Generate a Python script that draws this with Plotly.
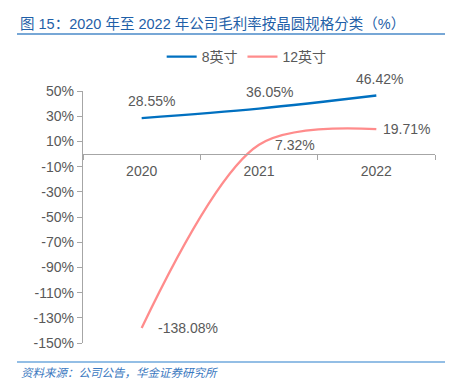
import plotly.graph_objects as go

years = ["2020", "2021", "2022"]
inch8 = [28.55, 36.05, 46.42]
inch12 = [-138.08, 7.32, 19.71]
label8 = ["28.55%", "36.05%", "46.42%"]
label12 = ["-138.08%", "7.32%", "19.71%"]
ytickvals = [50, 30, 10, -10, -30, -50, -70, -90, -110, -130, -150]
yticktext = [f"{v}%" for v in ytickvals]

BLUE = "#0070c0"
PINK = "#ff8c8c"
GREY = "#595959"
AXIS = "#a6a6a6"
FONT = "Liberation Sans, Noto Sans CJK SC, sans-serif"

fig = go.Figure()
fig.add_trace(go.Scatter(x=years, y=inch8, name="8英寸", mode="lines",
                         line=dict(color=BLUE, width=2.3, shape="spline", smoothing=1)))
fig.add_trace(go.Scatter(x=years, y=inch12, name="12英寸", mode="lines",
                         line=dict(color=PINK, width=2.3, shape="spline", smoothing=0.9)))

for i, (y, t) in enumerate(zip(inch8, label8)):
    fig.add_annotation(x=i, y=y, xref="x", yref="y", text=t, showarrow=False,
                       xshift=[10, 10, 3][i], yshift=17,
                       font=dict(size=14, color=GREY, family=FONT))
offs = [46, 36, 30]
for i, (y, t) in enumerate(zip(inch12, label12)):
    fig.add_annotation(x=i, y=y, xref="x", yref="y", text=t, showarrow=False, xshift=offs[i],
                       yshift=0, font=dict(size=14, color=GREY, family=FONT))

fig.update_layout(
    width=453, height=379,
    margin=dict(l=83, r=18, t=91, b=36, autoexpand=False),
    paper_bgcolor="white", plot_bgcolor="white",
    font=dict(family=FONT, size=14, color=GREY),
    showlegend=True,
    legend=dict(orientation="h", x=0.465, xref="paper", xanchor="center", y=1 - 57 / 379,
                yref="container", yanchor="middle", font=dict(size=14, color=GREY),
                bgcolor="rgba(0,0,0,0)"),
    xaxis=dict(type="category", range=[-0.5, 2.5], anchor="free", position=0.75,
               showline=True, linecolor=AXIS, linewidth=1.3, ticks="outside", tickson="boundaries",
               ticklen=5, tickcolor=AXIS, showgrid=False, zeroline=False, ticklabelstandoff=4,
               tickfont=dict(size=14, color=GREY)),
    yaxis=dict(range=[-150, 50], tickvals=ytickvals, ticktext=yticktext, showline=True,
               linecolor=AXIS, linewidth=1.3, ticks="outside", ticklen=5, tickcolor=AXIS,
               showgrid=False, zeroline=False, tickfont=dict(size=14, color=GREY), domain=[0, 1]),
)

fig.add_annotation(text="图 15：2020 年至 2022 年公司毛利率按晶圆规格分类（%）", xref="paper", yref="paper",
                   x=(18 - 83) / 352, y=1 + (91 - 24) / 252, xanchor="left", yanchor="middle",
                   showarrow=False, font=dict(size=14.5, color="#1f5fa8", family="Liberation Sans, Noto Sans CJK SC"))
fig.add_shape(type="line", xref="paper", yref="paper", x0=(17 - 83) / 352, x1=(445 - 83) / 352,
              y0=1 + (91 - 34) / 252, y1=1 + (91 - 34) / 252, line=dict(color="#4a8ac9", width=1.3))
fig.add_shape(type="line", xref="paper", yref="paper", x0=(17 - 83) / 352, x1=(445 - 83) / 352,
              y0=-(362 - 343) / 252, y1=-(362 - 343) / 252, line=dict(color="#6fa8dc", width=1.3))
fig.add_annotation(text="<i>资料来源：公司公告，华金证券研究所</i>", xref="paper", yref="paper",
                   x=(19 - 83) / 352, y=-(372 - 343) / 252, xanchor="left", yanchor="middle",
                   showarrow=False, font=dict(size=11.5, color="#3a78c0", family="Noto Sans CJK SC"))

fig.write_html("out.html", config={"displayModeBar": False},
               post_script="document.body.style.margin='0';document.body.style.overflow='hidden';")
